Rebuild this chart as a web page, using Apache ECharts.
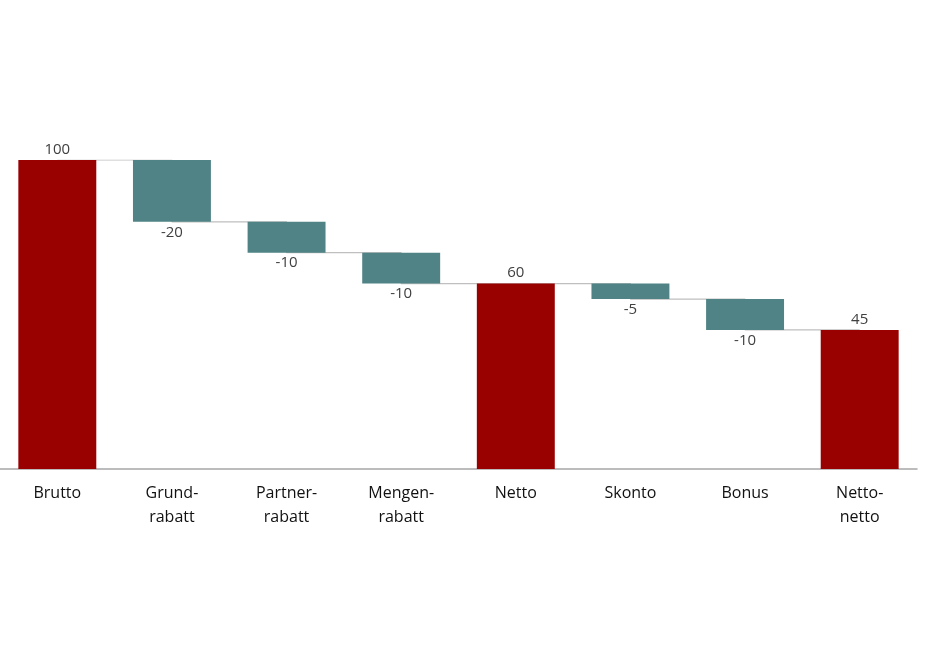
<!DOCTYPE html>
<html><head><meta charset="utf-8">
<script src="https://cdn.jsdelivr.net/npm/echarts@6/dist/echarts.min.js"></script>
<style>html,body{margin:0;padding:0;background:#fff}#c{width:940px;height:653px}</style>
</head><body><div id="c"></div>
<script>
const categories = ['Brutto', 'Grund-\nrabatt', 'Partner-\nrabatt', 'Mengen-\nrabatt', 'Netto', 'Skonto', 'Bonus', 'Netto-\nnetto'];
const changes = [100, -20, -10, -10, null, -5, -10, null]; // null = subtotal
const isTotal = [true, false, false, false, true, false, false, true];

// derive bar geometry from the data
const base = [], size = [], levels = [];
let level = 0;
changes.forEach((c, i) => {
  if (isTotal[i]) {
    if (c !== null) level = c;
    base.push(0); size.push(level);
  } else {
    const next = level + c;
    base.push(Math.min(level, next)); size.push(Math.abs(c));
    level = next;
  }
  levels.push(level);
});

const chart = echarts.init(document.getElementById('c'));
chart.setOption({
  animation: false,
  grid: { left: -2, right: 23, top: 160, bottom: 184, containLabel: false },
  xAxis: {
    type: 'category', data: categories,
    axisLine: { lineStyle: { color: '#a6a6a6', width: 1.5 } },
    axisTick: { show: false },
    axisLabel: { color: '#111111', fontFamily: 'Open Sans', fontSize: 16, lineHeight: 24, margin: 12 }
  },
  yAxis: { type: 'value', min: 0, max: 100, show: false, splitLine: { show: false } },
  series: [
    {
      type: 'line', data: levels, step: 'end', symbol: 'none', z: 1,
      lineStyle: { color: '#bfbfbf', width: 1.2 }, silent: true
    },
    {
      type: 'bar', stack: 'w', data: base, barWidth: '68%', z: 2,
      itemStyle: { color: 'transparent' }, silent: true
    },
    {
      type: 'bar', stack: 'w', barWidth: '68%', z: 3,
      data: size.map((v, i) => ({
        value: v,
        itemStyle: { color: isTotal[i] ? '#990000' : '#4f8385' },
        label: {
          show: true,
          position: isTotal[i] ? 'top' : 'bottom',
          distance: 3,
          formatter: isTotal[i] ? String(v) : String(changes[i]),
          color: '#404040', fontFamily: 'Open Sans', fontSize: 15
        }
      }))
    }
  ]
});
</script></body></html>
